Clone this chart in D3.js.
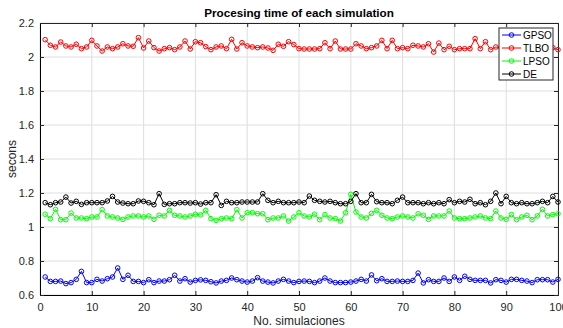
<!DOCTYPE html>
<html>
<head>
<meta charset="utf-8">
<script src="https://cdn.jsdelivr.net/npm/d3@7"></script>
<style>
  body { margin: 0; background: #fff; }
  text { font-family: "Liberation Sans", Arial, sans-serif; }
</style>
</head>
<body>
<script>
// tiempos por simulacion (segundos)
var seriesNames = ["GPSO", "TLBO", "LPSO", "DE"];
var seriesColors = ["#0000ff", "#ff0000", "#00ff00", "#000000"];

var gpso = [0.706, 0.680, 0.680, 0.682, 0.667, 0.673, 0.692, 0.739, 0.673, 0.673,
  0.692, 0.682, 0.696, 0.706, 0.759, 0.692, 0.716, 0.680, 0.680, 0.673,
  0.690, 0.673, 0.682, 0.682, 0.690, 0.716, 0.682, 0.696, 0.676, 0.686,
  0.689, 0.686, 0.678, 0.671, 0.682, 0.686, 0.700, 0.690, 0.682, 0.676,
  0.682, 0.702, 0.682, 0.676, 0.671, 0.682, 0.692, 0.682, 0.673, 0.680,
  0.682, 0.680, 0.673, 0.682, 0.700, 0.682, 0.673, 0.673, 0.673, 0.676,
  0.682, 0.692, 0.682, 0.718, 0.684, 0.696, 0.680, 0.680, 0.682, 0.680,
  0.680, 0.686, 0.729, 0.671, 0.690, 0.680, 0.680, 0.700, 0.680, 0.706,
  0.686, 0.710, 0.692, 0.686, 0.686, 0.686, 0.671, 0.690, 0.686, 0.676,
  0.692, 0.692, 0.686, 0.682, 0.673, 0.690, 0.690, 0.690, 0.676, 0.692];

var tlbo = [2.102, 2.069, 2.059, 2.088, 2.065, 2.059, 2.075, 2.049, 2.059, 2.098,
  2.065, 2.035, 2.059, 2.049, 2.059, 2.078, 2.065, 2.063, 2.114, 2.053,
  2.094, 2.055, 2.035, 2.049, 2.055, 2.043, 2.059, 2.094, 2.047, 2.090,
  2.084, 2.061, 2.043, 2.059, 2.065, 2.049, 2.104, 2.047, 2.084, 2.065,
  2.059, 2.055, 2.059, 2.053, 2.039, 2.075, 2.063, 2.090, 2.073, 2.049,
  2.047, 2.047, 2.047, 2.049, 2.084, 2.049, 2.094, 2.047, 2.047, 2.047,
  2.078, 2.065, 2.049, 2.055, 2.065, 2.098, 2.049, 2.098, 2.049, 2.055,
  2.049, 2.069, 2.065, 2.059, 2.078, 2.029, 2.082, 2.043, 2.063, 2.043,
  2.049, 2.049, 2.049, 2.108, 2.049, 2.090, 2.043, 2.059, 2.055, 2.065,
  2.049, 2.059, 2.049, 2.075, 2.053, 2.049, 2.059, 2.065, 2.055, 2.043];

var lpso = [1.075, 1.049, 1.104, 1.043, 1.043, 1.082, 1.053, 1.053, 1.049, 1.059,
  1.059, 1.102, 1.065, 1.059, 1.053, 1.045, 1.059, 1.065, 1.065, 1.059,
  1.065, 1.045, 1.069, 1.065, 1.098, 1.069, 1.065, 1.059, 1.065, 1.075,
  1.071, 1.098, 1.049, 1.039, 1.049, 1.053, 1.049, 1.102, 1.053, 1.084,
  1.084, 1.078, 1.078, 1.043, 1.053, 1.053, 1.065, 1.035, 1.059, 1.084,
  1.065, 1.059, 1.075, 1.043, 1.073, 1.053, 1.049, 1.035, 1.084, 1.192,
  1.088, 1.059, 1.053, 1.080, 1.098, 1.069, 1.053, 1.049, 1.059, 1.065,
  1.059, 1.053, 1.078, 1.069, 1.045, 1.065, 1.065, 1.065, 1.094, 1.053,
  1.049, 1.049, 1.053, 1.059, 1.065, 1.053, 1.049, 1.094, 1.053, 1.045,
  1.073, 1.043, 1.059, 1.069, 1.043, 1.065, 1.104, 1.065, 1.073, 1.078];

var de = [1.143, 1.131, 1.143, 1.147, 1.176, 1.141, 1.151, 1.133, 1.143, 1.143,
  1.143, 1.143, 1.153, 1.180, 1.147, 1.141, 1.137, 1.137, 1.153, 1.151,
  1.143, 1.131, 1.196, 1.133, 1.137, 1.137, 1.143, 1.143, 1.141, 1.143,
  1.135, 1.143, 1.143, 1.190, 1.127, 1.151, 1.143, 1.143, 1.147, 1.147,
  1.147, 1.147, 1.196, 1.157, 1.143, 1.151, 1.143, 1.143, 1.143, 1.147,
  1.143, 1.182, 1.157, 1.151, 1.147, 1.151, 1.143, 1.137, 1.137, 1.151,
  1.196, 1.143, 1.143, 1.192, 1.149, 1.143, 1.143, 1.137, 1.157, 1.176,
  1.143, 1.143, 1.143, 1.137, 1.143, 1.137, 1.143, 1.137, 1.161, 1.143,
  1.151, 1.147, 1.163, 1.137, 1.143, 1.131, 1.151, 1.200, 1.137, 1.180,
  1.143, 1.137, 1.143, 1.137, 1.137, 1.143, 1.151, 1.143, 1.180, 1.147];

var xTicks = [0, 10, 20, 30, 40, 50, 60, 70, 80, 90, 100];
var yTicks = [0.6, 0.8, 1, 1.2, 1.4, 1.6, 1.8, 2, 2.2];

var allSeries = [gpso, tlbo, lpso, de];

var width = 563, height = 328;
var margin = {top: 23, right: 5, bottom: 33, left: 40};
var w = width - margin.left - margin.right;
var h = height - margin.top - margin.bottom;

var xScale = d3.scaleLinear().domain([0, 100]).range([0, w]);
var yScale = d3.scaleLinear().domain([0.6, 2.2]).range([h, 0]);

var svg = d3.select("body").append("svg")
    .attr("width", width)
    .attr("height", height);

var g = svg.append("g")
    .attr("transform", "translate(" + margin.left + "," + margin.top + ")");

// grid
g.selectAll(".vgrid").data(xTicks).enter().append("line")
    .attr("x1", function(d) { return xScale(d); })
    .attr("x2", function(d) { return xScale(d); })
    .attr("y1", 0).attr("y2", h)
    .attr("stroke", "#dedede").attr("stroke-width", 1);
g.selectAll(".hgrid").data(yTicks).enter().append("line")
    .attr("y1", function(d) { return yScale(d); })
    .attr("y2", function(d) { return yScale(d); })
    .attr("x1", 0).attr("x2", w)
    .attr("stroke", "#dedede").attr("stroke-width", 1);

// axes (ticks hacia dentro, estilo matlab)
var fmt = function(d) { return d3.format("~g")(d); };
var xAxis = g.append("g").attr("transform", "translate(0," + h + ")")
    .call(d3.axisBottom(xScale).tickValues(xTicks).tickSize(-4).tickPadding(8).tickFormat(fmt));
var xTop = g.append("g")
    .call(d3.axisTop(xScale).tickValues(xTicks).tickSize(-4).tickFormat(""));
var yAxis = g.append("g")
    .call(d3.axisLeft(yScale).tickValues(yTicks).tickSize(-4).tickPadding(6).tickFormat(fmt));
var yRight = g.append("g").attr("transform", "translate(" + w + ",0)")
    .call(d3.axisRight(yScale).tickValues(yTicks).tickSize(-4).tickFormat(""));

[xAxis, xTop, yAxis, yRight].forEach(function(a) {
  a.select(".domain").attr("stroke", "#262626");
  a.selectAll(".tick line").attr("stroke", "#262626");
  a.selectAll("text").attr("fill", "#262626").style("font-size", "11px");
});
xAxis.select(".domain").attr("stroke", "#000");
yAxis.select(".domain").attr("stroke", "#000");

// series
var line = d3.line()
    .x(function(d, i) { return xScale(i + 1); })
    .y(function(d) { return yScale(d); });

allSeries.forEach(function(s, k) {
  g.append("path")
      .datum(s)
      .attr("fill", "none")
      .attr("stroke", seriesColors[k])
      .attr("stroke-width", 1)
      .attr("d", line);
  g.selectAll(".m" + k).data(s).enter().append("circle")
      .attr("cx", function(d, i) { return xScale(i + 1); })
      .attr("cy", function(d) { return yScale(d); })
      .attr("r", 2.3)
      .attr("fill", "none")
      .attr("stroke", seriesColors[k])
      .attr("stroke-width", 1);
});

// title and labels
svg.append("text")
    .attr("x", margin.left + w / 2).attr("y", 17)
    .attr("text-anchor", "middle")
    .style("font-size", "11.7px").style("font-weight", "bold")
    .attr("fill", "#000")
    .text("Procesing time of each simulation");

svg.append("text")
    .attr("x", margin.left + w / 2).attr("y", 325)
    .attr("text-anchor", "middle")
    .style("font-size", "12px").attr("fill", "#262626")
    .text("No. simulaciones");

svg.append("text")
    .attr("transform", "translate(16," + (margin.top + h / 2) + ") rotate(-90)")
    .attr("text-anchor", "middle")
    .style("font-size", "12px").attr("fill", "#262626")
    .text("secons");

// legend
var lg = svg.append("g").attr("transform", "translate(499,28)");
lg.append("rect")
    .attr("width", 54).attr("height", 52)
    .attr("fill", "#fff").attr("stroke", "#262626").attr("stroke-width", 1);
seriesNames.forEach(function(name, k) {
  var yy = 7 + k * 13;
  lg.append("line").attr("x1", 3).attr("x2", 22).attr("y1", yy).attr("y2", yy)
      .attr("stroke", seriesColors[k]).attr("stroke-width", 1);
  lg.append("circle").attr("cx", 12.5).attr("cy", yy).attr("r", 2.3)
      .attr("fill", "none").attr("stroke", seriesColors[k]);
  lg.append("text").attr("x", 24).attr("y", yy + 3.5)
      .style("font-size", "10px").attr("fill", "#000")
      .text(name);
});
</script>
</body>
</html>
